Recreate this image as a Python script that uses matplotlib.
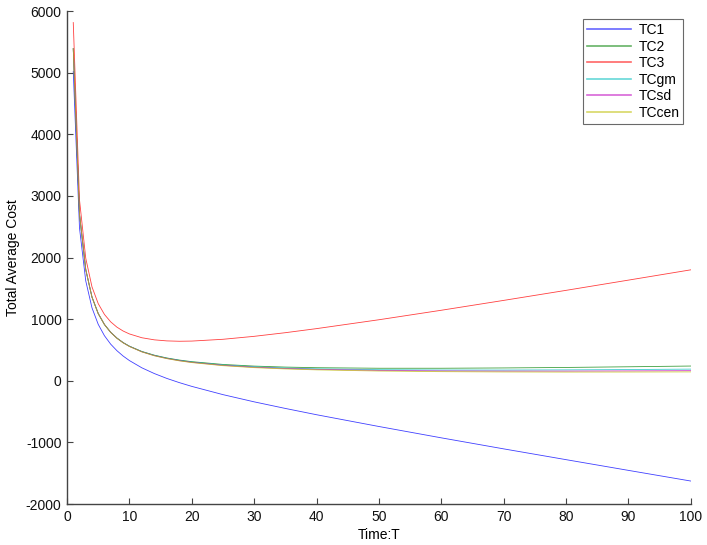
import numpy as np
import matplotlib.pyplot as plt

plt.rcParams['font.family'] = ['Liberation Sans', 'DejaVu Sans']
plt.rcParams['axes.unicode_minus'] = False

# time points
T = [1, 2, 3, 4, 5, 6, 7, 8, 9, 10, 12, 14, 16, 18, 20,
     25, 30, 35, 40, 50, 60, 70, 80, 90, 100]

tc1 = [5018, 2479, 1622, 1184, 916, 731, 594, 488, 401, 328, 210, 117, 38, -30, -91,
       -225, -342, -449, -551, -742, -926, -1105, -1280, -1454, -1627]
tc2 = [5387, 2699, 1804, 1357, 1090, 912, 786, 692, 619, 561, 475, 415, 370, 336, 310,
       265, 238, 222, 212, 203, 203, 208, 216, 227, 239]
tc3 = [5813, 2936, 1989, 1524, 1252, 1076, 956, 870, 807, 760, 698, 664, 647, 641, 644,
       673, 721, 780, 846, 990, 1144, 1304, 1467, 1633, 1800]
tcgm = [5391, 2703, 1807, 1360, 1092, 914, 787, 693, 619, 561, 473, 412, 366, 331, 304,
        256, 227, 207, 194, 180, 175, 174, 177, 182, 189]
tcsd = [5391, 2702, 1806, 1359, 1091, 913, 786, 691, 617, 558, 470, 408, 362, 327, 299,
        250, 219, 199, 185, 168, 160, 157, 157, 160, 164]
tccen = [5391, 2702, 1805, 1358, 1090, 912, 785, 689, 615, 556, 468, 405, 359, 323, 295,
         245, 213, 192, 177, 158, 148, 143, 141, 142, 144]

series = [('TC1', tc1, '#0000ff'),
          ('TC2', tc2, '#008000'),
          ('TC3', tc3, '#ff0000'),
          ('TCgm', tcgm, '#00bfbf'),
          ('TCsd', tcsd, '#bf00bf'),
          ('TCcen', tccen, '#bfbf00')]

fig = plt.figure(figsize=(7.07, 5.45), dpi=100)
ax = fig.add_axes([0.0948, 0.0752, 0.8822, 0.9046])

for name, vals, col in series:
    ax.plot(T, vals, color=col, lw=0.6, alpha=0.75, label=name)

ax.set_xlim(0, 100)
ax.set_ylim(-2000, 6000)
ax.set_xticks(np.arange(0, 101, 10))
ax.set_yticks(np.arange(-2000, 6001, 1000))

ax.spines['top'].set_visible(False)
ax.spines['right'].set_visible(False)
for s in ['left', 'bottom']:
    ax.spines[s].set_color('#444444')
    ax.spines[s].set_linewidth(1.0)
ax.tick_params(direction='in', length=4, width=0.8, color='#444444',
               labelsize=10, labelcolor='#111111', pad=4)

ax.set_xlabel('Time:T', fontsize=10, labelpad=3)
ax.set_ylabel('Total Average Cost', fontsize=10, labelpad=4)

leg = ax.legend(loc='upper right', fontsize=10, frameon=True, fancybox=False,
                edgecolor='#444444', handlelength=3.2, labelspacing=0.18,
                borderpad=0.3, handletextpad=0.5, bbox_to_anchor=(0.9995, 0.998))
leg.get_frame().set_linewidth(0.8)
for line in leg.get_lines():
    line.set_linewidth(1.2)
    line.set_alpha(0.6)

fig.savefig('out.png', dpi=100, facecolor='white')
